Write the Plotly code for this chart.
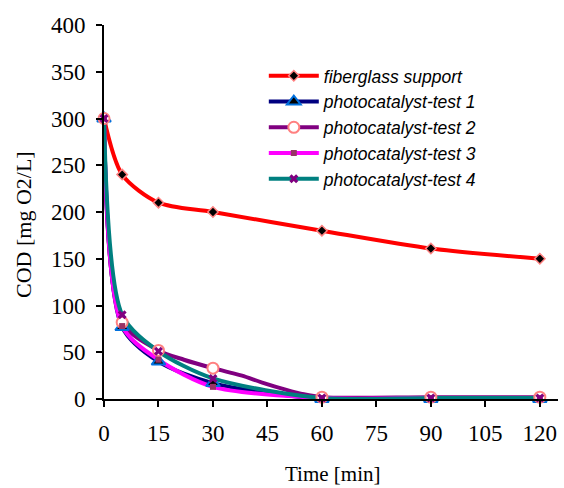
import plotly.graph_objects as go

# ---- data ----
time_pts = [0, 5, 15, 30, 60, 90, 120]
tick_vals = [0, 15, 30, 45, 60, 75, 90, 105, 120]

fiberglass = [300, 240, 210, 200, 180, 161, 150]
test1 = [300, 77, 40, 17, 0, 0, 0]
test2 = [300, 82, 52, 33, 2, 2, 2]
test3 = [300, 78, 42, 13, 1, 1, 1]
test4 = [300, 90, 51, 22, 1, 1, 1]

# extra (unmarked) points along the test 2 curve
test2_line_t = [0, 5, 15, 22, 30, 35, 38, 44, 50, 55, 60, 90, 120]
test2_line_v = [300, 82, 52, 42, 33, 28, 25, 17, 10, 5, 2, 2, 2]

names = ["fiberglass support", "photocatalyst-test 1", "photocatalyst-test 2",
         "photocatalyst-test 3", "photocatalyst-test 4"]

line_colors = ["#ff0000", "#000080", "#800080", "#ff00ff", "#008080"]
markers = [
    dict(symbol="diamond", size=8, color="black", line=dict(color="#ff8080", width=1.5)),
    dict(symbol="triangle-up", size=12, color="black", line=dict(color="#0070dd", width=2)),
    dict(symbol="circle", size=11, color="white", line=dict(color="#ff8080", width=2)),
    dict(symbol="square", size=6, color="#993366", line=dict(width=0)),
    dict(symbol="x", size=8, color="#800080", line=dict(width=0)),
]

line_x = [time_pts, time_pts, test2_line_t, time_pts, time_pts]
line_y = [fiberglass, test1, test2_line_v, test3, test4]
mark_y = [fiberglass, test1, test2, test3, test4]

fig = go.Figure()

# lines first
for i in range(5):
    fig.add_trace(go.Scatter(
        x=line_x[i], y=line_y[i], mode="lines",
        line=dict(color=line_colors[i], width=4, shape="spline", smoothing=0.8),
        showlegend=False, hoverinfo="skip"))

# markers on top
for i in range(5):
    fig.add_trace(go.Scatter(
        x=time_pts, y=mark_y[i], mode="markers", marker=markers[i],
        cliponaxis=False, showlegend=False))

# legend entries
for i in range(5):
    fig.add_trace(go.Scatter(
        x=[None], y=[None], mode="lines+markers", name=names[i],
        legendgroup=f"g{i}",
        line=dict(color=line_colors[i], width=4), marker=markers[i]))

axis_font = dict(family="Liberation Serif, Times New Roman, serif", size=23, color="black")

fig.update_layout(
    width=564, height=488,
    margin=dict(l=104, r=6, t=25, b=89, autoexpand=False),
    paper_bgcolor="white", plot_bgcolor="white",
    showlegend=True,
    legend=dict(
        x=0.352, y=0.912, xanchor="left", yanchor="top",
        bgcolor="rgba(0,0,0,0)",
        font=dict(family="Liberation Sans, Arial, sans-serif", size=17.5, color="black", style="italic"),
        tracegroupgap=0, itemwidth=50,
    ),
    xaxis=dict(
        range=[0, 125], tickvals=tick_vals, ticktext=[str(v) for v in tick_vals],
        showline=True, linecolor="black", linewidth=2,
        ticks="outside", ticklen=6, tickwidth=1.5, tickcolor="black",
        showgrid=False, zeroline=False, tickfont=axis_font, ticklabelstandoff=6,
        automargin=False,
    ),
    yaxis=dict(
        range=[0, 400], dtick=50,
        showline=True, linecolor="black", linewidth=2,
        ticks="outside", ticklen=6, tickwidth=1.5, tickcolor="black",
        showgrid=False, zeroline=False, tickfont=axis_font, ticklabelstandoff=6,
        automargin=False,
    ),
    annotations=[
        dict(text="COD [mg O2/L]", x=24, y=225, xref="paper", yref="paper",
             xanchor="center", yanchor="middle",
             showarrow=False, textangle=-90,
             font=dict(family="Liberation Serif, Times New Roman, serif", size=22, color="black")),
        dict(text="Time [min]", x=332, y=474, xref="paper", yref="paper",
             xanchor="center", yanchor="middle",
             showarrow=False,
             font=dict(family="Liberation Serif, Times New Roman, serif", size=21, color="black")),
    ],
)

# convert pixel annotation positions to paper coordinates
pw = 564 - 104 - 6
ph = 488 - 25 - 89
for a in fig.layout.annotations:
    a.x = (a.x - 104) / pw
    a.y = (488 - 89 - a.y) / ph

fig.write_html("out.html", config={"displayModeBar": False},
               post_script="document.body.style.margin='0';")
